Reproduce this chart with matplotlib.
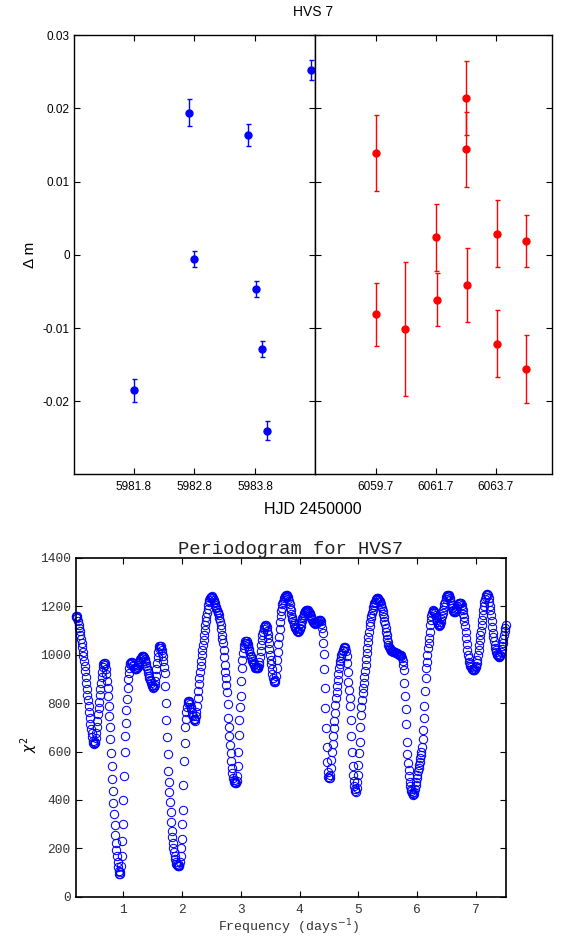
import numpy as np
import matplotlib
matplotlib.use('Agg')
import matplotlib.pyplot as plt

plt.rcParams['font.family'] = ['Liberation Sans', 'DejaVu Sans']

# ---- light curve data (HJD - 2450000, delta mag, error) ----
blue_t = [5981.80, 5982.71, 5982.80, 5983.69, 5983.82, 5983.92, 5983.99, 5984.73]
blue_dm = [-0.0185, 0.0194, -0.0006, 0.0163, -0.0046, -0.0128, -0.0240, 0.0252]
blue_err = [0.0016, 0.0018, 0.0011, 0.0015, 0.0011, 0.0011, 0.0013, 0.0014]

red_t = [6059.70, 6059.72, 6060.69, 6061.71, 6061.74, 6062.73, 6062.72,
         6062.75, 6063.74, 6063.75, 6064.70, 6064.73]
red_dm = [0.0139, -0.0081, -0.0101, 0.0024, -0.0061, 0.0214, 0.0144,
          -0.0041, 0.0029, -0.0121, 0.0019, -0.0156]
red_err = [0.0052, 0.0043, 0.0091, 0.0046, 0.0036, 0.0051, 0.0051,
           0.0050, 0.0046, 0.0046, 0.0036, 0.0046]

blue_ticks = [5981.8, 5982.8, 5983.8]
red_ticks = [6059.7, 6061.7, 6063.7]
dm_ticks = [-0.02, -0.01, 0, 0.01, 0.02, 0.03]
dm_labels = ['-0.02', '-0.01', '0', '0.01', '0.02', '0.03']

# ---- periodogram: chi^2 sampled every 0.01 d^-1 from 0.20 to 7.50 ----
chi2 = [
    1158, 1162, 1160, 1150, 1138, 1125, 1112, 1097, 1082, 1066,   # 0.2
    1050, 1031, 1012, 993, 974, 955, 931, 907, 883, 859,          # 0.3
    835, 811, 787, 763, 739, 715, 695, 676, 660, 645,             # 0.4
    636, 632, 634, 640, 655, 675, 700, 728, 755, 780,             # 0.5
    805, 832, 860, 885, 908, 930, 950, 962, 968, 968,             # 0.6
    958, 942, 920, 893, 863, 830, 790, 747, 700, 650,             # 0.7
    595, 540, 488, 436, 386, 340, 295, 255, 222, 195,             # 0.8
    170, 145, 122, 105, 95, 92, 102, 128, 170, 230,               # 0.9
    300, 400, 500, 600, 665, 720, 770, 818, 862, 900,             # 1.0
    925, 945, 960, 968, 972, 970, 964, 958, 952, 947,             # 1.1
    943, 941, 940, 942, 946, 951, 958, 965, 971, 976,             # 1.2
    981, 986, 990, 993, 995, 994, 990, 983, 975, 965,             # 1.3
    955, 944, 935, 925, 914, 904, 897, 890, 882, 875,             # 1.4
    869, 866, 864, 866, 875, 890, 912, 940, 965, 990,             # 1.5
    1012, 1027, 1035, 1038, 1035, 1028, 1018, 1006, 994, 975,     # 1.6
    950, 923, 870, 800, 730, 661, 590, 520, 475, 432,             # 1.7
    390, 350, 310, 272, 245, 222, 200, 183, 168, 155,             # 1.8
    145, 137, 131, 128, 127, 127, 132, 145, 170, 200,             # 1.9
    240, 300, 360, 460, 560, 635, 700, 735, 765, 785,             # 2.0
    800, 809, 808, 803, 795, 785, 774, 763, 753, 745,             # 2.1
    735, 730, 728, 734, 745, 765, 790, 820, 852, 880,             # 2.2
    906, 929, 952, 976, 999, 1020, 1040, 1061, 1082, 1102,        # 2.3
    1123, 1140, 1157, 1174, 1191, 1206, 1217, 1226, 1233, 1238,   # 2.4
    1240, 1241, 1238, 1233, 1226, 1219, 1212, 1206, 1199, 1192,   # 2.5
    1185, 1178, 1171, 1163, 1153, 1140, 1124, 1105, 1082, 1066,   # 2.6
    1050, 1020, 990, 958, 930, 902, 875, 847, 795, 740,           # 2.7
    700, 665, 627, 595, 560, 531, 510, 492, 482, 476,             # 2.8
    474, 471, 471, 480, 500, 540, 600, 670, 730, 785,             # 2.9
    830, 890, 944, 980, 1008, 1027, 1040, 1050, 1055, 1057,       # 3.0
    1055, 1050, 1043, 1035, 1025, 1015, 1005, 996, 989, 982,      # 3.1
    975, 968, 962, 956, 951, 947, 945, 944, 944, 946,             # 3.2
    950, 958, 970, 990, 1015, 1040, 1062, 1080, 1095, 1107,       # 3.3
    1115, 1120, 1123, 1122, 1115, 1100, 1085, 1068, 1050, 1025,   # 3.4
    1000, 980, 960, 940, 922, 906, 893, 886, 886, 895,            # 3.5
    912, 945, 980, 1013, 1045, 1075, 1105, 1137, 1160, 1180,      # 3.6
    1195, 1208, 1218, 1227, 1235, 1240, 1244, 1246, 1246, 1243,   # 3.7
    1238, 1231, 1222, 1210, 1195, 1183, 1170, 1158, 1147, 1138,   # 3.8
    1130, 1123, 1116, 1110, 1105, 1100, 1097, 1096, 1097, 1100,   # 3.9
    1105, 1112, 1120, 1130, 1140, 1150, 1158, 1165, 1171, 1176,   # 4.0
    1180, 1183, 1185, 1185, 1183, 1180, 1176, 1171, 1166, 1160,   # 4.1
    1154, 1148, 1142, 1136, 1132, 1130, 1129, 1130, 1131, 1133,   # 4.2
    1135, 1138, 1141, 1143, 1144, 1143, 1138, 1128, 1112, 1089,   # 4.3
    1047, 1002, 941, 864, 779, 696, 620, 558, 517, 495,           # 4.4
    489, 492, 505, 530, 565, 600, 633, 665, 696, 728,             # 4.5
    760, 792, 820, 847, 870, 895, 920, 944, 960, 975,             # 4.6
    988, 998, 1006, 1014, 1021, 1027, 1032, 1034, 1028, 1015,     # 4.7
    995, 965, 930, 889, 855, 822, 790, 730, 665, 600,             # 4.8
    540, 505, 478, 458, 444, 436, 434, 450, 475, 503,             # 4.9
    545, 595, 641, 700, 751, 785, 815, 840, 861, 885,             # 5.0
    910, 934, 958, 982, 1006, 1030, 1054, 1075, 1096, 1117,       # 5.1
    1137, 1150, 1162, 1174, 1185, 1196, 1206, 1213, 1219, 1225,   # 5.2
    1230, 1233, 1234, 1234, 1232, 1228, 1223, 1217, 1209, 1201,   # 5.3
    1192, 1180, 1168, 1155, 1141, 1126, 1110, 1095, 1080, 1066,   # 5.4
    1053, 1040, 1032, 1026, 1022, 1019, 1017, 1015, 1014, 1013,   # 5.5
    1012, 1011, 1010, 1009, 1008, 1007, 1006, 1004, 1003, 1001,   # 5.6
    1000, 999, 997, 994, 988, 975, 958, 935, 885, 830,            # 5.7
    775, 715, 640, 590, 552, 524, 500, 476, 458, 445,             # 5.8
    435, 428, 423, 421, 424, 432, 445, 460, 475, 490,             # 5.9
    505, 518, 531, 545, 558, 572, 586, 600, 620, 650,             # 6.0
    690, 740, 790, 850, 905, 945, 970, 1000, 1027, 1048,          # 6.1
    1068, 1095, 1123, 1142, 1160, 1172, 1180, 1183, 1182, 1178,   # 6.2
    1172, 1165, 1155, 1145, 1135, 1127, 1122, 1120, 1122, 1128,   # 6.3
    1137, 1148, 1160, 1173, 1186, 1198, 1210, 1220, 1230, 1238,   # 6.4
    1243, 1246, 1247, 1246, 1242, 1235, 1226, 1215, 1204, 1194,   # 6.5
    1186, 1180, 1177, 1176, 1178, 1182, 1188, 1195, 1202, 1208,   # 6.6
    1212, 1215, 1216, 1215, 1212, 1205, 1195, 1183, 1170, 1155,   # 6.7
    1140, 1120, 1095, 1070, 1045, 1020, 1000, 985, 972, 962,      # 6.8
    955, 948, 943, 940, 938, 937, 937, 938, 942, 948,             # 6.9
    955, 965, 980, 1000, 1020, 1040, 1060, 1080, 1100, 1122,      # 7.0
    1145, 1165, 1185, 1202, 1218, 1230, 1240, 1247, 1250, 1250,   # 7.1
    1245, 1235, 1220, 1202, 1183, 1163, 1140, 1115, 1092, 1072,   # 7.2
    1055, 1042, 1030, 1020, 1011, 1004, 998, 994, 992, 992,       # 7.3
    994, 1000, 1010, 1022, 1036, 1050, 1066, 1082, 1098, 1112,    # 7.4
    1125,                                                         # 7.5
]
freq = np.linspace(0.20, 7.50, len(chi2))

fig = plt.figure(figsize=(5.64, 9.40), dpi=100)
W, H = 564.0, 940.0

def px_axes(x0, y0, x1, y1):
    return fig.add_axes([x0 / W, 1 - y1 / H, (x1 - x0) / W, (y1 - y0) / H])

# ============================================================
# TOP: light curve, two nights side by side
# ============================================================
ax1 = px_axes(74, 35, 315, 474)
ax2 = px_axes(315, 35, 551.7, 474)

ax1.errorbar(blue_t, blue_dm, yerr=blue_err, fmt='o', color='b', ms=5,
             elinewidth=1, capsize=1.8, capthick=1)
ax2.errorbar(red_t, red_dm, yerr=red_err, fmt='o', color='r', ms=5,
             elinewidth=1, capsize=1.8, capthick=1)

ax1.set_xlim(5980.81, 5984.79)
ax2.set_xlim(6057.68, 6065.57)
ax1.set_xticks(blue_ticks)
ax1.set_xticklabels([f'{t:.1f}' for t in blue_ticks])
ax2.set_xticks(red_ticks)
ax2.set_xticklabels([f'{t:.1f}' for t in red_ticks])

for ax in (ax1, ax2):
    ax.set_ylim(-0.0299, 0.03)
    ax.set_yticks(dm_ticks)
    ax.tick_params(direction='in', top=True, right=True, length=4,
                   width=0.8, labelsize=8.5)
    ax.tick_params(axis='x', pad=5)
    ax.tick_params(axis='y', pad=3)
    for s in ax.spines.values():
        s.set_linewidth(1.0)
ax1.set_yticklabels(dm_labels)
ax2.set_yticklabels([])

ax1.set_ylabel('Δ m', fontsize=11)
ax1.yaxis.set_label_coords(-0.153, 0.5)
fig.text(313 / W, 1 - 510 / H, 'HJD 2450000', ha='center', va='center', fontsize=11.5)
fig.text(313 / W, 1 - 12 / H, 'HVS 7', ha='center', va='center', fontsize=10)

# ============================================================
# BOTTOM: periodogram
# ============================================================
mono = 'Liberation Mono'
ax3 = px_axes(75.7, 558, 505.7, 896.7)
ax3.plot(freq, chi2, 'o', mfc='none', mec='b', ms=6, mew=0.75, clip_on=False)
ax3.set_xlim(0.2, 7.5)
ax3.set_ylim(0, 1400)
ax3.set_xticks(range(1, 8))
ax3.set_yticks(range(0, 1401, 200))
ax3.tick_params(direction='in', top=True, right=True, length=4, width=0.8,
                labelsize=9.3, labelcolor='#333333')
ax3.tick_params(axis='x', pad=5)
ax3.tick_params(axis='y', pad=3.5)
for lab in ax3.get_xticklabels() + ax3.get_yticklabels():
    lab.set_family(mono)
for s in ax3.spines.values():
    s.set_linewidth(1.2)

ax3.set_title('Periodogram for HVS7', family=mono, fontsize=13.5,
              color='#222222', pad=3)
ax3.set_xlabel('Frequency (days$^{-1}$)', family=mono, fontsize=9.5,
               color='#333333')
ax3.xaxis.set_label_coords(0.496, -0.06)
ax3.set_ylabel(r'$\chi^2$', fontsize=10)
ax3.yaxis.set_label_coords(-0.083, 0.45)

fig.savefig('out.png', dpi=100)
